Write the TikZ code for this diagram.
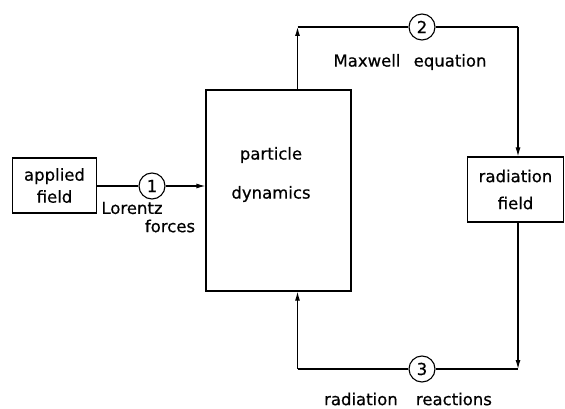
\documentclass[tikz,border=0pt]{standalone}
\usepackage{fontspec}
\setmainfont{DejaVu Sans}
\newfontfamily\diafam{DejaVu Sans}[FakeBold=0.5]
\usetikzlibrary{arrows.meta,positioning}
\newcommand{\diafont}{\diafam\fontsize{16.5}{20}\selectfont}
\tikzset{
  blk/.style={draw,line width=1.1pt,inner sep=0pt},
  numc/.style={draw,circle,line width=1.1pt,minimum size=26pt,inner sep=0pt},
  lbl/.style={inner sep=0pt},
  flow/.style={line width=1.1pt},
  arr/.style={flow,-{Latex[length=9pt,width=5pt]}},
}
\begin{document}
\begin{tikzpicture}[x=1pt,y=-1pt,every node/.style={font=\diafont}]
\useasboundingbox (0,0) rectangle (565,409);
% blocks
\node[blk,minimum width=84pt,minimum height=55pt,align=center] (af) at (54.5,185.5) {applied\\[2pt]field};
\node[blk,minimum width=145pt,minimum height=201pt] (pd) at (278.5,190.5) {};
\node[lbl,align=center] (pdlbl) at (271,174.5) {particle\\[19pt]dynamics};
\node[blk,minimum width=96pt,minimum height=65pt,align=center] (rf) at (515.5,189.5) {radiation\\[7pt]field};
% numbered couplings
\node[numc] (c1) at (152,186) {1};
\node[numc] (c2) at (422,27) {2};
\node[numc] (c3) at (422,369) {3};
\coordinate (tl) at (297.5,27);
\coordinate (tr) at (518,27);
\coordinate (br) at (518,369);
\coordinate (bl) at (297.5,369);
% connectors
\draw[flow] (af.east |- c1) -- (c1);
\draw[arr] (c1) -- (c1 -| pd.west);
\draw[arr] (pd.north -| tl) -- (tl);
\draw[flow] (tl) -- (c2) -- (tr);
\draw[arr] (tr) -- (tr |- rf.north);
\draw[arr] (rf.south -| br) -- (br);
\draw[flow] (br) -- (c3) -- (bl);
\draw[arr] (bl) -- (bl |- pd.south);
% labels
\node[lbl] (lor) at (132,208) {Lorentz};
\node[lbl] (forc) at (170,226) {forces};
\node[lbl] (maxw) at (410,62) {Maxwell\hspace{0.8em}equation};
\node[lbl] (radr) at (408,399) {radiation\hspace{1.1em}reactions};
\end{tikzpicture}
\end{document}
